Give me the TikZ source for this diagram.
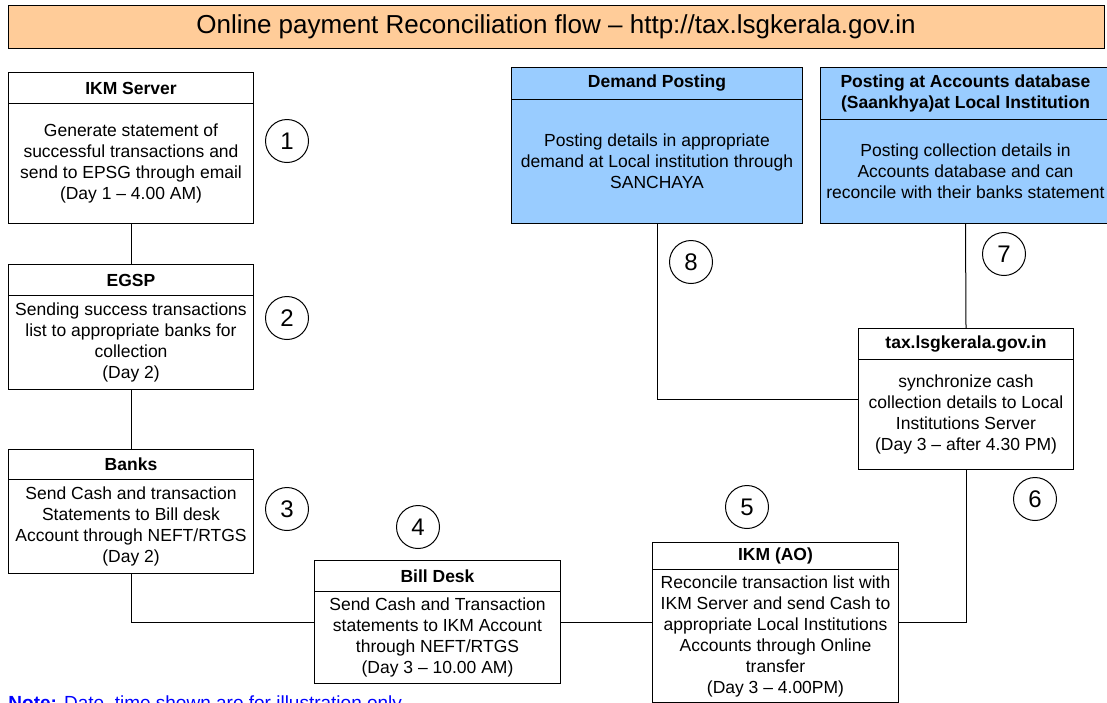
\documentclass[tikz,border=0pt]{standalone}
\usepackage{fontspec}
\setmainfont{Liberation Sans}
\usetikzlibrary{shapes.multipart}
\definecolor{titlepeach}{HTML}{FFCC99}
\definecolor{postblue}{HTML}{99CCFF}
\newcommand{\stagecell}[3]{\parbox[c][#2pt][c]{#1pt}{\centering #3}}

\begin{document}
\begin{tikzpicture}[x=1pt, y=-1pt, line width=1pt,
    stage/.style={rectangle split, rectangle split parts=2, draw, inner sep=0pt,
      anchor=north west, font=\fontsize{17.5}{21}\selectfont},
    posting/.style={stage, fill=postblue},
    num/.style={circle, draw, minimum size=43pt, inner sep=0pt,
      font=\fontsize{24}{24}\selectfont}]
  \useasboundingbox (0,0) rectangle (1107,702);

  \node[draw, fill=titlepeach, minimum width=1096pt, minimum height=43pt, inner sep=0pt,
    font=\fontsize{26}{26}\selectfont] (title) at (556,26.5)
    {Online payment Reconciliation flow – http://tax.lsgkerala.gov.in};

  \node[stage] (ikm) at (8,72) {\stagecell{245}{30}{\bfseries IKM Server}\nodepart{two}%
    \stagecell{245}{119}{Generate statement of\\ successful transactions and\\ send to EPSG through email\\ (Day 1 – 4.00 AM)}};
  \node[stage] (egsp) at (8,264) {\stagecell{245}{30}{\bfseries EGSP}\nodepart{two}%
    \stagecell{245}{93}{Sending success transactions\\ list to appropriate banks for\\ collection\\ (Day 2)}};
  \node[stage] (banks) at (8,449) {\stagecell{245}{29}{\bfseries Banks}\nodepart{two}%
    \stagecell{245}{93}{Send Cash and transaction\\ Statements to Bill desk\\ Account through NEFT/RTGS\\ (Day 2)}};
  \node[stage] (billdesk) at (314,560) {\stagecell{246}{30}{\bfseries Bill Desk}\nodepart{two}%
    \stagecell{246}{91}{Send Cash and Transaction\\ statements to IKM Account\\ through NEFT/RTGS\\ (Day 3 – 10.00 AM)}};
  \node[stage] (ikmao) at (652,542) {\stagecell{246}{26}{\bfseries IKM (AO)}\nodepart{two}%
    \stagecell{246}{132}{Reconcile transaction list with\\ IKM Server and send Cash to\\ appropriate Local Institutions\\ Accounts through Online\\ transfer\\ (Day 3 – 4.00PM)}};
  \node[stage] (tax) at (858,328) {\stagecell{215}{30}{\bfseries tax.lsgkerala.gov.in}\nodepart{two}%
    \stagecell{215}{109}{synchronize cash\\ collection details to Local\\ Institutions Server\\ (Day 3 – after 4.30 PM)}};
  \node[posting] (demand) at (511,67) {\stagecell{291}{31}{\bfseries Demand Posting}\nodepart{two}%
    \stagecell{291}{123}{Posting details in appropriate\\ demand at Local institution through\\ SANCHAYA}};
  \node[posting] (accounts) at (820,67) {\stagecell{290}{51}{\bfseries Posting at Accounts database\\ (Saankhya)at Local Institution}\nodepart{two}%
    \stagecell{290}{103}{Posting collection details in\\ Accounts database and can\\ reconcile with their banks statement}};

  \node[num] (n1) at (287,141) {1};
  \node[num] (n2) at (287,318) {2};
  \node[num] (n3) at (287,509) {3};
  \node[num] (n4) at (418,527) {4};
  \node[num] (n5) at (747,507) {5};
  \node[num] (n6) at (1035,499) {6};
  \node[num] (n7) at (1004,254) {7};
  \node[num] (n8) at (691,262) {8};

  \draw (ikm) -- (egsp);
  \draw (egsp) -- (banks);
  \draw (banks.south) |- (billdesk.west);
  \draw (billdesk.east) -- (billdesk.east -| ikmao.west);
  \draw (ikmao.east) -| (tax.south);
  \draw (tax.west) -| (demand.south);
  \draw (tax.north) -- (accounts.south);

  \node[anchor=base west, inner sep=0pt, text=blue, font=\fontsize{19}{22}\selectfont] (note) at (8,709)
    {\textbf{Note:} Date, time shown are for illustration only};
\end{tikzpicture}
\end{document}
